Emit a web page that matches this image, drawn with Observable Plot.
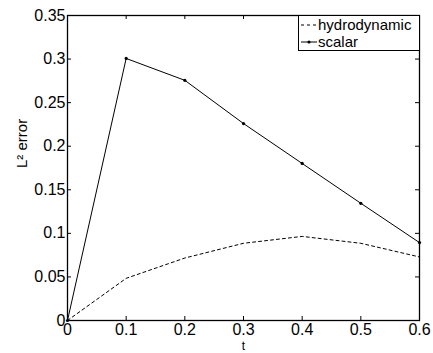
<!DOCTYPE html>
<html>
<head>
<meta charset="utf-8">
<script src="https://cdn.jsdelivr.net/npm/d3@7"></script>
<script src="https://cdn.jsdelivr.net/npm/@observablehq/plot@0.6"></script>
<style>
  html, body { margin: 0; padding: 0; background: #fff; }
  #wrap { position: relative; width: 433px; height: 353px; overflow: hidden; font-family: "Liberation Sans", Arial, Helvetica, sans-serif; }
  #legend { position: absolute; left: 298px; top: 15px; width: 120px; height: 34px; border: 1px solid #000; background: #fff; font-size: 15px; line-height: 17px; }
  #legend .row { display: flex; align-items: center; height: 17px; white-space: nowrap; }
  #legend svg { flex: none; margin-left: 2px; margin-right: 1px; }
</style>
</head>
<body>
<div id="wrap"><div id="chart"></div><div id="legend"></div></div>
<script>
const t = [0, 0.1, 0.2, 0.3, 0.4, 0.5, 0.6];
const hydrodynamic = [0, 0.0484, 0.0717, 0.0886, 0.0965, 0.0886, 0.0729];
const scalar = [0, 0.3007, 0.2756, 0.2260, 0.1802, 0.1345, 0.0894];
const xTicks = [0, 0.1, 0.2, 0.3, 0.4, 0.5, 0.6];
const yTicks = [0, 0.05, 0.1, 0.15, 0.2, 0.25, 0.3, 0.35];
const seriesNames = ["hydrodynamic", "scalar"];

const hydroData = t.map((x, i) => ({t: x, v: hydrodynamic[i]}));
const scalarData = t.map((x, i) => ({t: x, v: scalar[i]}));

const W = 433, H = 353, mL = 67, mR = 14, mT = 15, mB = 33;
const innerW = W - mL - mR, innerH = H - mT - mB, tl = 4;
const font = "'Liberation Sans', Arial, Helvetica, sans-serif";

const chart = Plot.plot({
  width: W, height: H,
  marginLeft: mL, marginRight: mR, marginTop: mT, marginBottom: mB,
  style: {fontFamily: font, fontSize: "16px", background: "#fff", color: "#000", overflow: "visible"},
  x: {domain: [0, 0.6], ticks: xTicks},
  y: {domain: [0, 0.35], ticks: yTicks},
  marks: [
    Plot.axisX(xTicks, {anchor: "bottom", tickSize: 0, tickPadding: 3, label: null, fontSize: 16, tickFormat: d => String(d)}),
    Plot.axisY(yTicks, {anchor: "left", tickSize: 0, tickPadding: 2, label: null, fontSize: 16, tickFormat: d => String(d)}),
    Plot.tickX(xTicks, {x: d => d, insetTop: innerH - tl, stroke: "#000"}),
    Plot.tickX(xTicks, {x: d => d, insetBottom: innerH - tl, stroke: "#000"}),
    Plot.tickY(yTicks, {y: d => d, insetRight: innerW - tl, stroke: "#000"}),
    Plot.tickY(yTicks, {y: d => d, insetLeft: innerW - tl, stroke: "#000"}),
    Plot.line(hydroData, {x: "t", y: "v", stroke: "#000", strokeWidth: 1, strokeDasharray: "3,3"}),
    Plot.line(scalarData, {x: "t", y: "v", stroke: "#000", strokeWidth: 1}),
    Plot.dot(scalarData, {x: "t", y: "v", r: 1.6, fill: "#000", stroke: "none"}),
    Plot.frame({stroke: "#000", strokeWidth: 1.3}),
    Plot.text(["L² error"], {frameAnchor: "left", dx: -45, rotate: -90, fontSize: 15, fill: "#000"}),
    Plot.text(["t"], {frameAnchor: "bottom", dy: 29, lineAnchor: "bottom", fontSize: 12, fill: "#000"})
  ]
});
document.getElementById("chart").appendChild(chart);

const legend = document.getElementById("legend");
const samples = [
  '<svg width="16" height="10"><line x1="0" y1="5" x2="16" y2="5" stroke="#000" stroke-width="1" stroke-dasharray="3,3"/></svg>',
  '<svg width="16" height="10"><line x1="0" y1="5" x2="16" y2="5" stroke="#000" stroke-width="1"/><circle cx="8" cy="5" r="1.6" fill="#000"/></svg>'
];
seriesNames.forEach((name, i) => {
  const row = document.createElement("div");
  row.className = "row";
  row.innerHTML = samples[i] + "<span>" + name + "</span>";
  legend.appendChild(row);
});
</script>
</body>
</html>
